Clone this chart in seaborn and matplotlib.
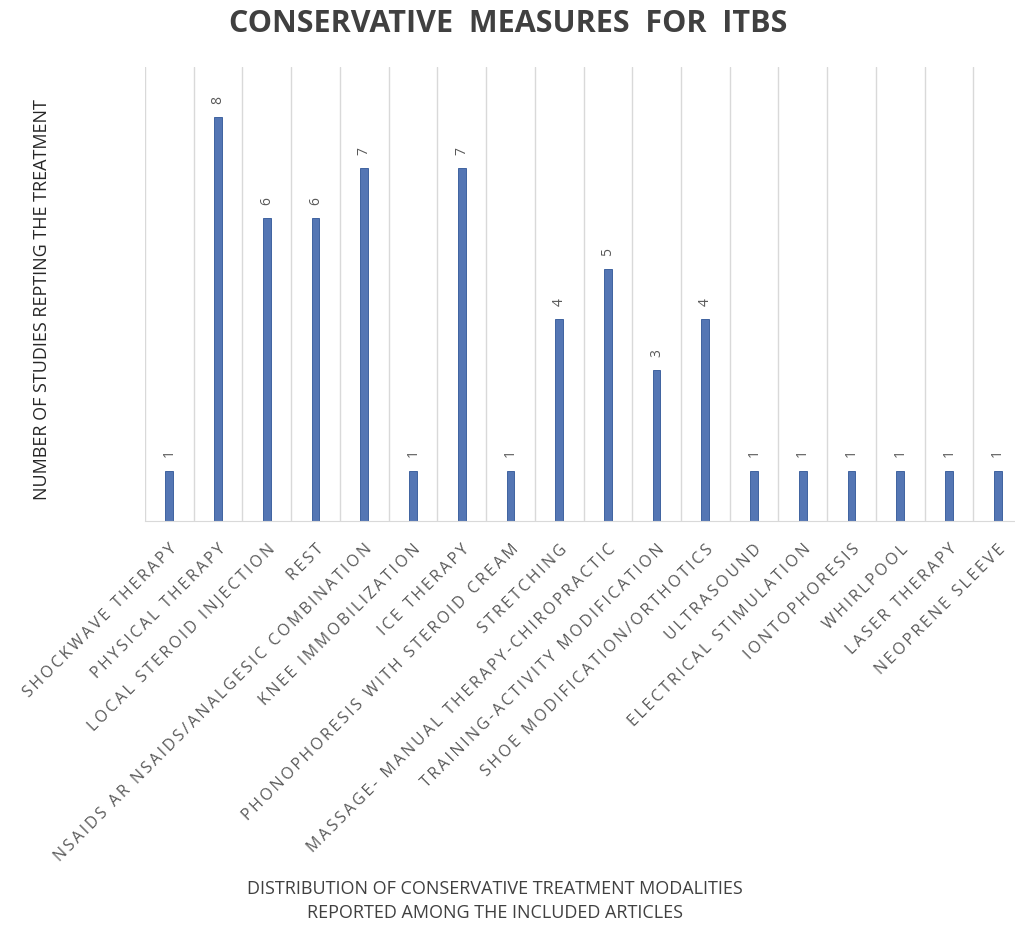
import matplotlib
matplotlib.use("Agg")
import matplotlib.pyplot as plt
import seaborn as sns
import pandas as pd

# dati
trattamenti = ["SHOCKWAVE THERAPY", "PHYSICAL THERAPY", "LOCAL STEROID INJECTION", "REST",
               "NSAIDS AR NSAIDS/ANALGESIC COMBINATION", "KNEE IMMOBILIZATION", "ICE THERAPY",
               "PHONOPHORESIS WITH STEROID CREAM", "STRETCHING", "MASSAGE- MANUAL THERAPY-CHIROPRACTIC",
               "TRAINING-ACTIVITY MODIFICATION", "SHOE MODIFICATION/ORTHOTICS", "ULTRASOUND",
               "ELECTRICAL STIMULATION", "IONTOPHORESIS", "WHIRLPOOL", "LASER THERAPY", "NEOPRENE SLEEVE"]
n_studi = [1, 8, 6, 6, 7, 1, 7, 1, 4, 5, 3, 4, 1, 1, 1, 1, 1, 1]

df = pd.DataFrame({"trattamento": trattamenti, "studi": n_studi})

sns.set_style("white")
plt.rcParams['font.family'] = ['Open Sans', 'DejaVu Sans']
grigio = "#595959"


def spazia(s, sep="\u2009"):
    # spaziatura tra le lettere come nell'originale
    return sep.join(s)


fig = plt.figure(figsize=(10.15, 9.29), dpi=100)
ax = fig.add_axes([145 / 1015, 1 - 522 / 929, 877 / 1015, (522 - 68) / 929])

sns.barplot(data=df, x="trattamento", y="studi", color="#4472C4", width=0.16,
            edgecolor="#2F5597", linewidth=0.6, ax=ax)

for i, v in enumerate(n_studi):
    ax.text(i, v + 0.28, str(v), rotation=90, ha="center", va="bottom",
            fontsize=10, color=grigio)

ax.set_ylim(0, 9)
ax.set_xlim(-0.5, len(trattamenti) - 0.5)
ax.set_yticks([])

# griglia verticale ai confini delle categorie
for b in range(len(trattamenti) + 1):
    ax.axvline(b - 0.5, color="#d9d9d9", lw=1, zorder=0)

for s in ["top", "right", "left"]:
    ax.spines[s].set_visible(False)
ax.spines["bottom"].set_color("#d9d9d9")

ax.set_xticks(range(len(trattamenti)))
ax.set_xticklabels([spazia(t) for t in trattamenti], rotation=45, ha="right",
                   rotation_mode="anchor", fontsize=11.5, color=grigio)
ax.tick_params(axis="x", length=0, pad=14)

ax.set_xlabel("")
ax.set_ylabel("")

fig.text(42 / 1015, 1 - 300 / 929, "NUMBER OF STUDIES REPTING THE TREATMENT", rotation=90,
         ha="center", va="center", fontsize=13, color="#262626")
fig.text(495 / 1015, 1 - 901 / 929,
         "DISTRIBUTION OF CONSERVATIVE TREATMENT MODALITIES\nREPORTED AMONG THE INCLUDED ARTICLES",
         ha="center", va="center", fontsize=13, color="#404040", linespacing=1.4)
fig.text(508 / 1015, 1 - 24 / 929, "CONSERVATIVE  MEASURES  FOR  ITBS",
         ha="center", va="center", fontsize=22, fontweight="bold", color="#404040")

fig.savefig("out.png", dpi=100)
